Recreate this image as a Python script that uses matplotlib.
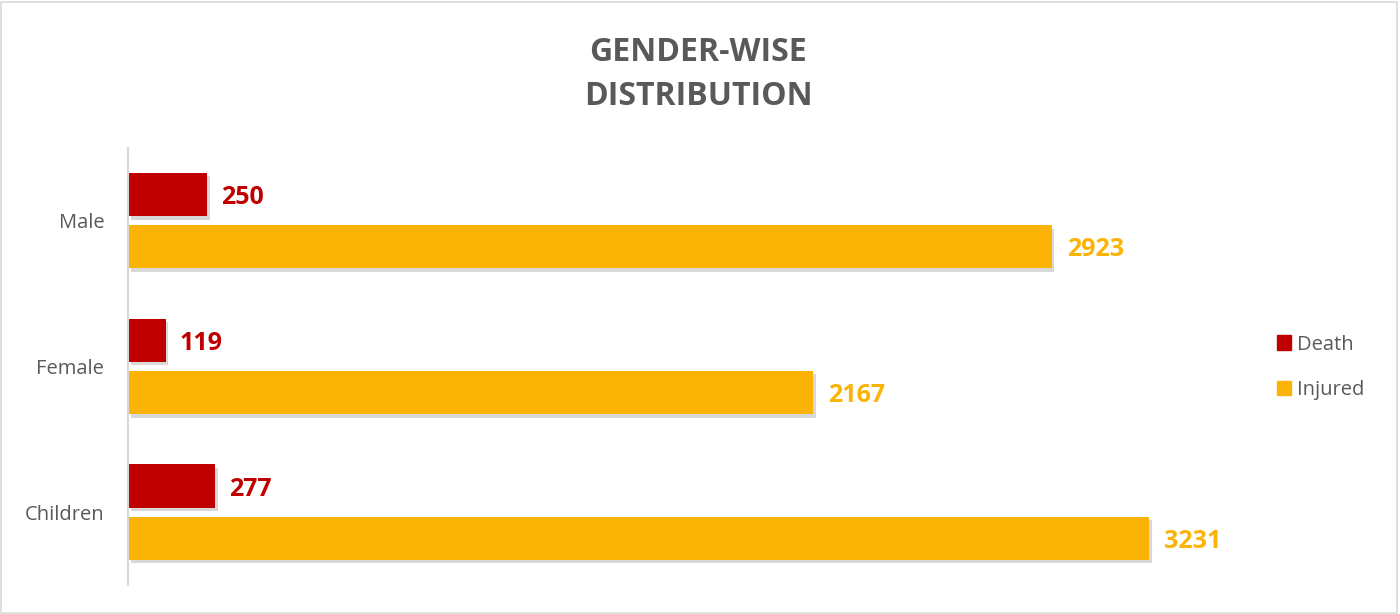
import matplotlib.pyplot as plt
import matplotlib.patheffects as pe
from matplotlib.patches import Rectangle, Patch
import numpy as np

categories = ['Male', 'Female', 'Children']
death = [250, 119, 277]
injured = [2923, 2167, 3231]

red = '#C00000'
gold = '#FBB306'
grey = '#595959'

plt.rcParams['font.family'] = ['Open Sans', 'DejaVu Sans']

fig = plt.figure(figsize=(14, 6.14), dpi=100)
ax = fig.add_axes([0.0914, 0.0472, 0.79, 0.712])

y = np.arange(len(categories))
h = 0.297
off = 0.179
shadow = [pe.SimplePatchShadow(offset=(2, -2.5), alpha=0.3, shadow_rgbFace='#7f7f7f'), pe.Normal()]

b1 = ax.barh(y - off, death, height=h, color=red, label='Death')
b2 = ax.barh(y + off, injured, height=h, color=gold, label='Injured')
for b in list(b1) + list(b2):
    b.set_path_effects(shadow)

lab1 = ax.bar_label(b1, padding=10, color=red, fontsize=18, fontweight='bold')
lab2 = ax.bar_label(b2, padding=11, color=gold, fontsize=18, fontweight='bold')
for t in list(lab1) + list(lab2):
    t.set_va('center_baseline')

ax.set_yticks(y)
ax.set_yticklabels(categories, fontsize=14.5, color=grey)
ax.set_ylim(2.5, -0.5)
ax.set_xlim(0, 3500)
ax.set_xticks([])
ax.tick_params(axis='y', length=0, pad=17)
for s in ['top', 'right', 'bottom']:
    ax.spines[s].set_visible(False)
ax.spines['left'].set_color('#D9D9D9')
ax.spines['left'].set_linewidth(1.5)

fig.text(0.4986, 0.879, 'GENDER-WISE\nDISTRIBUTION', ha='center', va='center',
         fontsize=23, fontweight='bold', color=grey, linespacing=1.45)

handles = [Patch(color=red, label='Death'), Patch(color=gold, label='Injured')]
fig.legend(handles=handles, loc='center left', bbox_to_anchor=(0.899, 0.402),
           frameon=False, fontsize=14.5, labelcolor=grey, handlelength=0.7,
           handleheight=0.7, handletextpad=0.3, labelspacing=1.25)

fig.patches.append(Rectangle((0.001, 0.002), 0.997, 0.995, transform=fig.transFigure,
                             fill=False, edgecolor='#D9D9D9', linewidth=1.2))

plt.savefig('out.png', dpi=100)
